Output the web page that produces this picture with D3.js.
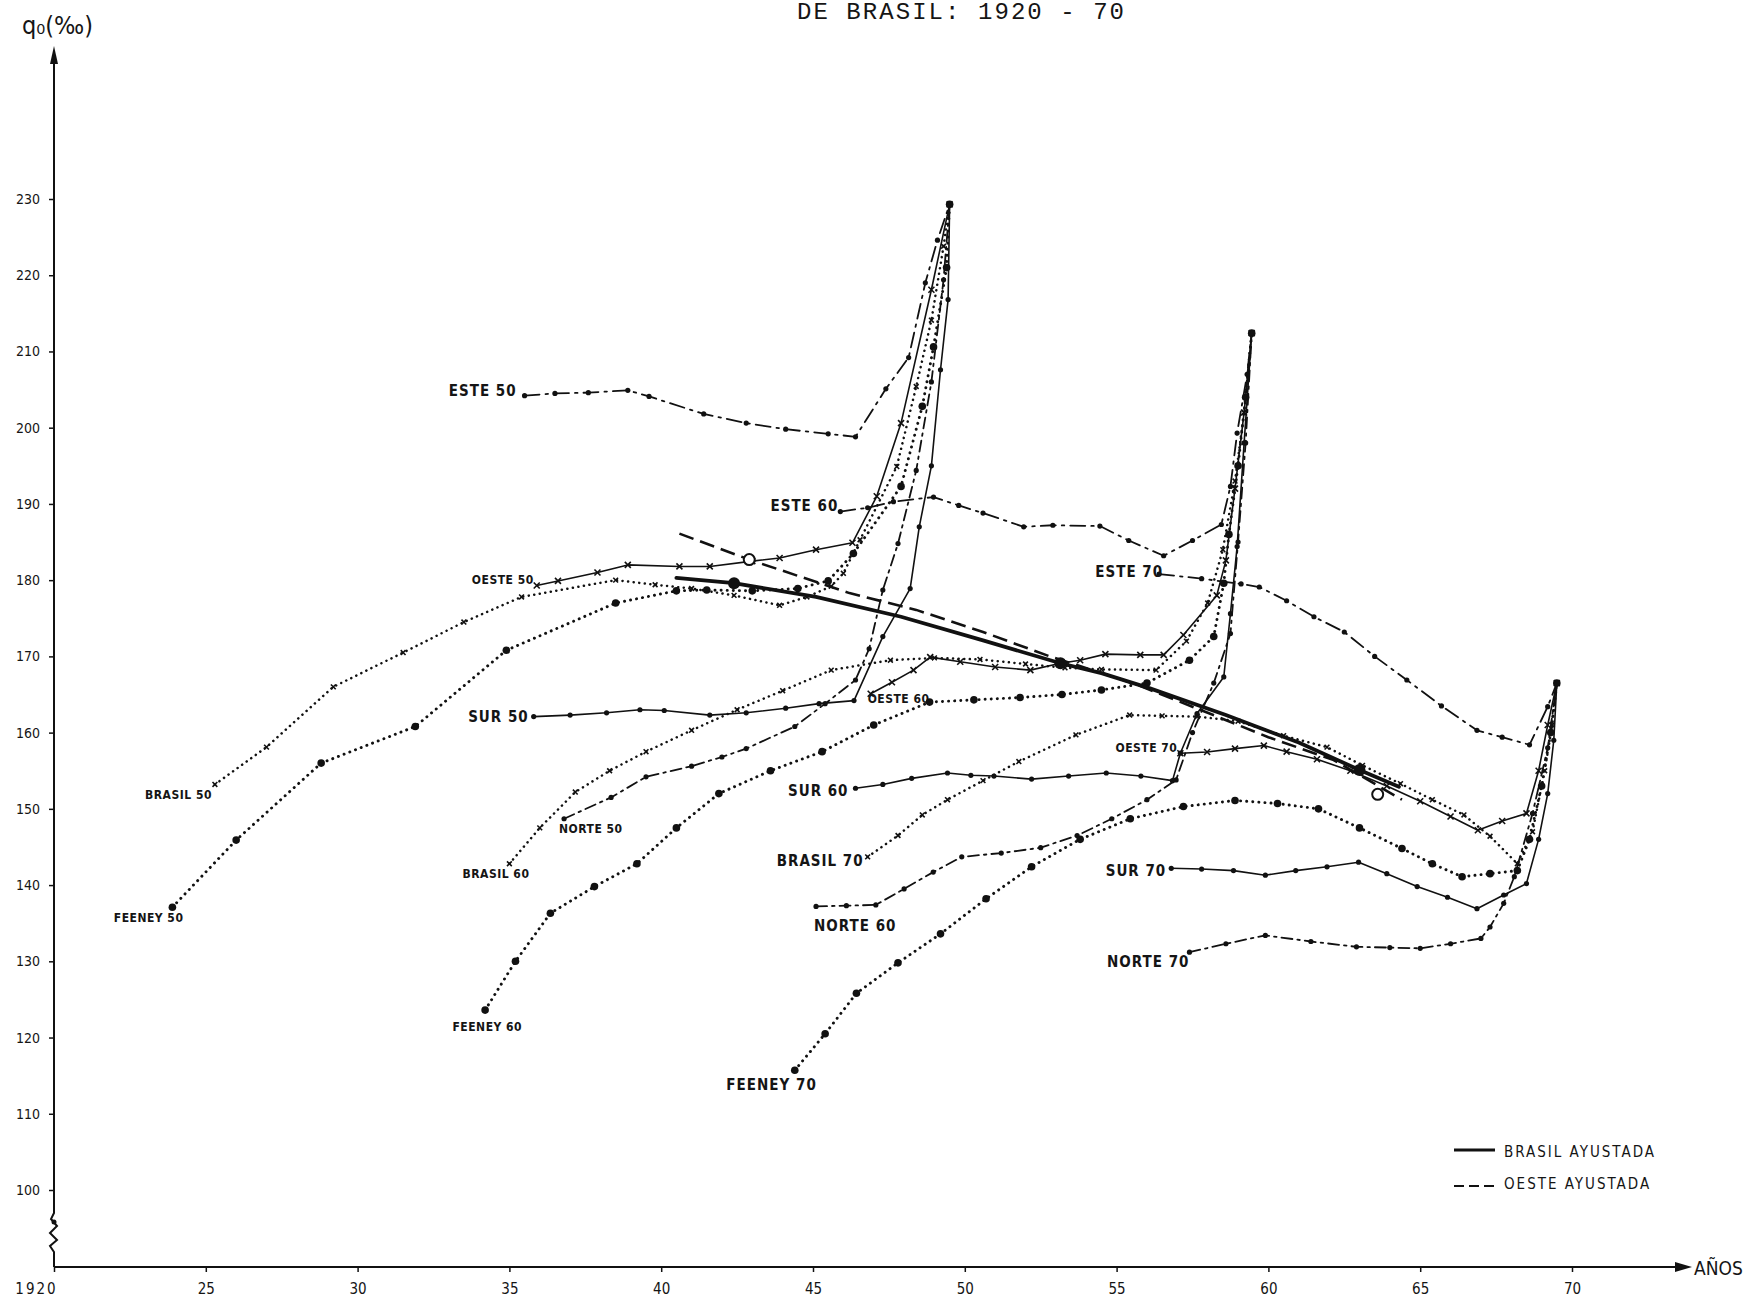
<!DOCTYPE html>
<html>
<head>
<meta charset="utf-8">
<script src="https://cdn.jsdelivr.net/npm/d3@7"></script>
<style>
  html, body { margin: 0; padding: 0; background: #fff; }
  svg { display: block; }
  text { fill: #151515; }
</style>
</head>
<body>
<svg id="chart" width="1753" height="1303"></svg>
<script>

// axis ticks
var yearTicks = [1920, 1925, 1930, 1935, 1940, 1945, 1950, 1955, 1960, 1965, 1970];
var yearTickLabels = ["1920", "25", "30", "35", "40", "45", "50", "55", "60", "65", "70"];
var q0Ticks = [100, 110, 120, 130, 140, 150, 160, 170, 180, 190, 200, 210, 220, 230];
var q0TickLabels = ["100", "110", "120", "130", "140", "150", "160", "170", "180", "190", "200", "210", "220", "230"];

// q0 (per thousand) by reference year: [year, q0]
var este50 = [[1935.5,204.2],[1936.5,204.5],[1937.6,204.6],[1938.9,204.9],[1939.6,204.1],[1941.4,201.8],[1942.8,200.6],[1944.1,199.8],[1945.5,199.2],[1946.4,198.8],[1947.4,205.1],[1948.15,209.2],[1948.7,219],[1949.1,224.6],[1949.5,229.3]];
var oeste50 = [[1935.9,179.3],[1936.6,179.9],[1937.9,181.0],[1938.9,182.0],[1940.6,181.8],[1941.6,181.8],[1943.0,182.5],[1943.9,182.9],[1945.1,184.0],[1946.3,184.9],[1947.1,191],[1947.9,200.6],[1948.9,218.1],[1949.5,229.3]];
var brasil50 = [[1925.3,153.2],[1927.0,158.1],[1929.2,166.0],[1931.5,170.5],[1933.5,174.5],[1935.4,177.8],[1938.5,180.0],[1939.8,179.4],[1941.0,178.9],[1942.4,178.0],[1943.9,176.7],[1944.8,177.8],[1945.6,179.2],[1946.0,180.9],[1946.55,185.3],[1947.76,194.9],[1948.4,205.4],[1948.9,214.1],[1949.3,223.8],[1949.5,229.3]];
var feeney50 = [[1923.9,137.1],[1926.0,145.9],[1928.8,156.0],[1931.9,160.8],[1934.9,170.8],[1938.5,177.0],[1940.5,178.6],[1941.5,178.7],[1943.0,178.6],[1944.5,178.9],[1945.5,179.9],[1946.33,183.5],[1947.9,192.3],[1948.6,202.8],[1948.97,210.6],[1949.4,221],[1949.5,229.3]];
var sur50 = [[1935.8,162.1],[1937.0,162.3],[1938.2,162.6],[1939.3,163.0],[1940.1,162.9],[1941.6,162.3],[1942.8,162.6],[1944.1,163.2],[1945.2,163.8],[1946.35,164.2],[1947.3,172.6],[1948.2,178.9],[1948.5,187],[1948.9,195],[1949.2,207.6],[1949.45,216.8],[1949.5,229.3]];
var norte50 = [[1936.8,148.7],[1938.35,151.5],[1939.5,154.2],[1941.0,155.6],[1942.0,156.8],[1942.8,157.9],[1944.4,160.8],[1945.4,163.8],[1946.4,166.9],[1946.85,171],[1947.3,178.7],[1947.8,184.8],[1948.4,194.4],[1948.9,206],[1949.3,219.4],[1949.5,229.3]];

var este60 = [[1945.9,189.0],[1946.8,189.5],[1947.65,190.3],[1948.97,190.9],[1949.8,189.8],[1950.6,188.8],[1951.94,187.0],[1952.9,187.2],[1954.45,187.1],[1955.4,185.2],[1956.55,183.2],[1957.5,185.2],[1958.45,187.3],[1958.75,192.3],[1958.97,199.3],[1959.3,207],[1959.45,212.4]];
var oeste60 = [[1946.9,165.1],[1947.6,166.6],[1948.31,168.2],[1948.86,169.9],[1949.85,169.3],[1951.0,168.6],[1952.16,168.2],[1953.15,169.1],[1953.8,169.5],[1954.63,170.3],[1955.78,170.2],[1956.55,170.2],[1957.2,172.8],[1958.3,178.0],[1958.6,182.6],[1958.9,192],[1959.2,202],[1959.45,212.4]];
var brasil60 = [[1935.0,142.8],[1936.0,147.5],[1937.17,152.2],[1938.3,155.0],[1939.5,157.5],[1941.0,160.3],[1942.5,163.0],[1944.0,165.5],[1945.6,168.2],[1947.55,169.5],[1949.0,169.8],[1950.5,169.6],[1952.0,169.0],[1953.3,168.5],[1954.5,168.3],[1956.3,168.2],[1957.3,172],[1958.0,177],[1958.5,184],[1958.9,193],[1959.2,202],[1959.45,212.4]];
var feeney60 = [[1934.2,123.6],[1935.2,130],[1936.35,136.3],[1937.8,139.8],[1939.2,142.8],[1940.5,147.5],[1941.9,152.0],[1943.6,155.0],[1945.3,157.5],[1947.0,161.0],[1948.84,164.0],[1950.3,164.3],[1951.82,164.6],[1953.2,165.0],[1954.5,165.6],[1956.0,166.5],[1957.4,169.5],[1958.2,172.6],[1958.53,179.6],[1958.7,186],[1959.0,195],[1959.25,204],[1959.45,212.4]];
var sur60 = [[1946.4,152.7],[1947.3,153.2],[1948.25,154.0],[1949.43,154.7],[1950.2,154.4],[1950.96,154.3],[1952.2,153.9],[1953.42,154.3],[1954.66,154.7],[1955.8,154.3],[1956.84,153.7],[1957.1,157.3],[1957.65,162.5],[1958.53,167.3],[1958.75,175.6],[1958.97,184.4],[1959.2,198],[1959.45,212.4]];
var norte60 = [[1945.1,137.2],[1946.1,137.3],[1947.07,137.4],[1948.0,139.5],[1948.96,141.7],[1949.9,143.7],[1951.2,144.2],[1952.5,144.9],[1953.7,146.5],[1954.84,148.7],[1956.0,151.2],[1956.96,153.8],[1957.5,160],[1958.2,166.5],[1958.75,173],[1959.0,185],[1959.25,198],[1959.45,212.4]];

var este70 = [[1956.4,180.8],[1957.8,180.2],[1959.1,179.5],[1959.7,179.1],[1960.6,177.3],[1961.5,175.2],[1962.5,173.2],[1963.5,170.0],[1964.56,166.9],[1965.7,163.5],[1966.87,160.3],[1967.7,159.4],[1968.6,158.4],[1969.2,163.4],[1969.5,166.5]];
var oeste70 = [[1957.1,157.3],[1957.98,157.45],[1958.9,157.9],[1959.85,158.3],[1960.6,157.5],[1961.6,156.5],[1962.7,155.0],[1963.9,153.0],[1965.0,151.0],[1966.0,149.0],[1966.9,147.2],[1967.7,148.4],[1968.5,149.4],[1968.9,155],[1969.2,161],[1969.5,166.5]];
var brasil70 = [[1946.8,143.7],[1947.8,146.5],[1948.6,149.2],[1949.43,151.2],[1950.6,153.7],[1951.78,156.2],[1953.66,159.7],[1955.43,162.3],[1956.5,162.2],[1957.66,162.1],[1959.0,161.5],[1960.5,159.6],[1961.93,158.1],[1963.1,155.7],[1964.35,153.3],[1965.4,151.2],[1966.44,149.2],[1967.3,146.4],[1968.2,142.8],[1968.7,147],[1969.1,155],[1969.35,161],[1969.5,166.5]];
var feeney70 = [[1944.4,115.7],[1945.4,120.5],[1946.43,125.8],[1947.8,129.8],[1949.2,133.6],[1950.7,138.2],[1952.2,142.4],[1953.8,146.0],[1955.45,148.7],[1957.2,150.3],[1958.9,151.1],[1960.3,150.7],[1961.65,150.0],[1963.0,147.5],[1964.4,144.8],[1965.4,142.8],[1966.38,141.1],[1967.3,141.5],[1968.2,141.9],[1968.6,146],[1969.0,153],[1969.3,160],[1969.5,166.5]];
var sur70 = [[1956.8,142.2],[1957.8,142.1],[1958.85,141.9],[1959.9,141.3],[1960.9,141.9],[1961.93,142.4],[1962.97,143.0],[1963.9,141.5],[1964.9,139.8],[1965.9,138.4],[1966.87,136.9],[1967.75,138.7],[1968.5,140.2],[1968.9,146],[1969.2,152],[1969.4,159],[1969.5,166.5]];
var norte70 = [[1957.4,131.2],[1958.6,132.3],[1959.9,133.4],[1961.4,132.6],[1962.9,131.9],[1964.0,131.8],[1965.0,131.7],[1966.0,132.3],[1967.0,133.0],[1967.3,134.5],[1967.75,137.6],[1968.1,141.1],[1968.7,149.4],[1969.2,158],[1969.5,166.5]];

// fitted lines
var brasilAjustada = [[1940.5,180.3],[1942.4,179.6],[1945.1,177.8],[1947.9,175.2],[1950.6,172.1],[1953.15,169.1],[1954.5,167.8],[1956.1,165.8],[1958.6,162.3],[1961.0,158.7],[1963.0,155.1],[1964.3,152.9]];
var oesteAjustada = [[1940.6,186.1],[1942.9,182.7],[1946.2,178.3],[1948.4,176.1],[1950.6,173.2],[1952.8,170.0],[1955.6,166.4],[1958.0,162.6],[1960.0,159.4],[1962.15,156.4],[1964.4,151.2]];
var brasilAjustadaDots = [[1942.4,179.6],[1953.15,169.1],[1963.0,155.1]];
var ajustadaCircles = [[1942.9,182.7],[1963.6,151.9]];

var series = [
    {name: "ESTE 50", data: este50, kind: "este"},
    {name: "OESTE 50", data: oeste50, kind: "oeste"},
    {name: "BRASIL 50", data: brasil50, kind: "brasil"},
    {name: "FEENEY 50", data: feeney50, kind: "feeney"},
    {name: "SUR 50", data: sur50, kind: "sur"},
    {name: "NORTE 50", data: norte50, kind: "norte"},
    {name: "ESTE 60", data: este60, kind: "este"},
    {name: "OESTE 60", data: oeste60, kind: "oeste"},
    {name: "BRASIL 60", data: brasil60, kind: "brasil"},
    {name: "FEENEY 60", data: feeney60, kind: "feeney"},
    {name: "SUR 60", data: sur60, kind: "sur"},
    {name: "NORTE 60", data: norte60, kind: "norte"},
    {name: "ESTE 70", data: este70, kind: "este"},
    {name: "OESTE 70", data: oeste70, kind: "oeste"},
    {name: "BRASIL 70", data: brasil70, kind: "brasil"},
    {name: "FEENEY 70", data: feeney70, kind: "feeney"},
    {name: "SUR 70", data: sur70, kind: "sur"},
    {name: "NORTE 70", data: norte70, kind: "norte"}
];

// line look per region
var kinds = {
    este:   {dash: "15,6,2.5,6", width: 1.8, marker: "dot", r: 2.6},
    norte:  {dash: "11,5,2.5,5", width: 1.8, marker: "dot", r: 2.6},
    sur:    {dash: null, width: 1.6, marker: "dot", r: 2.6},
    oeste:  {dash: null, width: 1.6, marker: "x", r: 3},
    brasil: {dash: "0.1,5.5", width: 2.5, marker: "x", r: 2.4},
    feeney: {dash: "0.1,6", width: 2.9, marker: "dot", r: 3.8}
};

// where each label sits next to the first point of its curve
var labelPos = {
    "ESTE 50":   {anchor: "end",   dx: -8, dy: -4,  small: false},
    "OESTE 50":  {anchor: "end",   dx: -3, dy: -5,  small: true},
    "SUR 50":    {anchor: "end",   dx: -5, dy: 1,   small: false},
    "NORTE 50":  {anchor: "start", dx: -5, dy: 11,  small: true},
    "BRASIL 50": {anchor: "end",   dx: -3, dy: 11,  small: true},
    "FEENEY 50": {anchor: "end",   dx: 11, dy: 11,  small: true},
    "ESTE 60":   {anchor: "end",   dx: -2, dy: -5,  small: false},
    "OESTE 60":  {anchor: "start", dx: -3, dy: 6,   small: true},
    "SUR 60":    {anchor: "end",   dx: -7, dy: 3,   small: false},
    "NORTE 60":  {anchor: "start", dx: -2, dy: 20,  small: false},
    "BRASIL 60": {anchor: "end",   dx: 20, dy: 11,  small: true},
    "FEENEY 60": {anchor: "end",   dx: 37, dy: 17,  small: true},
    "ESTE 70":   {anchor: "end",   dx: 4,  dy: -2,  small: false},
    "OESTE 70":  {anchor: "end",   dx: -3, dy: -5,  small: true},
    "SUR 70":    {anchor: "end",   dx: -5, dy: 3,   small: false},
    "NORTE 70":  {anchor: "end",   dx: 0,  dy: 10,  small: false},
    "BRASIL 70": {anchor: "end",   dx: -4, dy: 5,   small: false},
    "FEENEY 70": {anchor: "end",   dx: 22, dy: 15,  small: false}
};

var svg = d3.select("#chart");
var hand = "'Liberation Sans Narrow', 'DejaVu Sans Condensed', 'Arial Narrow', sans-serif";

var x = d3.scaleLinear().domain([1920, 1970]).range([54, 1572]);
var y = d3.scaleLinear().domain([100, 230]).range([1190, 199]);
var axisY = 1267;
var x0 = x(1920);

// title (the top edge of the scan clips it; kept just inside the page here)
svg.append("text")
    .attr("x", 797).attr("y", 19)
    .attr("textLength", 327)
    .style("font-family", "'Liberation Mono', 'DejaVu Sans Mono', monospace")
    .style("font-size", "24px")
    .text("DE BRASIL: 1920 - 70");

// y axis
var yAxis = svg.append("g")
    .attr("transform", "translate(" + x0 + ",0)")
    .call(d3.axisLeft(y).tickValues(q0Ticks).tickSize(5).tickPadding(9)
        .tickFormat(function(d, i) { return q0TickLabels[i]; }));
yAxis.select(".domain").remove();
yAxis.selectAll("line").attr("stroke", "#111").attr("stroke-width", 1.5);
yAxis.selectAll("text").style("font-family", hand).style("font-size", "14px").attr("fill", "#151515");

// axis line with the break zigzag near the bottom
var zig = [[x0, axisY], [x0, 1252], [x0 - 4, 1246], [x0 + 3, 1240], [x0 - 4, 1233],
           [x0 + 3, 1226], [x0 - 3, 1219], [x0, 1213], [x0, 56]];
svg.append("path")
    .attr("d", d3.line()(zig))
    .attr("fill", "none").attr("stroke", "#111").attr("stroke-width", 2);
svg.append("path")
    .attr("d", "M" + x0 + ",46 L" + (x0 - 4) + ",64 L" + (x0 + 4) + ",64 Z")
    .attr("fill", "#111");
svg.append("circle").attr("cx", x0).attr("cy", 1222).attr("r", 2.5).attr("fill", "#111");

svg.append("text")
    .attr("x", 22).attr("y", 34)
    .style("font-family", hand).style("font-size", "25px")
    .text("q\u2080(\u2030)");

// x axis
var xAxis = svg.append("g")
    .attr("transform", "translate(0," + axisY + ")")
    .call(d3.axisBottom(x).tickValues(yearTicks).tickSize(5).tickPadding(11)
        .tickFormat(function(d, i) { return yearTickLabels[i]; }));
xAxis.select(".domain").remove();
xAxis.selectAll("line").attr("stroke", "#111").attr("stroke-width", 1.5);
xAxis.selectAll("text").style("font-family", hand).style("font-size", "15px").attr("fill", "#151515");
xAxis.selectAll(".tick").filter(function(d) { return d === 1920; })
    .select("text").attr("dx", -18).attr("letter-spacing", 2);

svg.append("line")
    .attr("x1", x0).attr("x2", 1680).attr("y1", axisY).attr("y2", axisY)
    .attr("stroke", "#111").attr("stroke-width", 2.2);
svg.append("path")
    .attr("d", "M1692," + axisY + " L1675," + (axisY - 5) + " L1675," + (axisY + 5) + " Z")
    .attr("fill", "#111");
svg.append("text")
    .attr("x", 1694).attr("y", axisY + 8)
    .style("font-family", hand).style("font-size", "19px")
    .text("AÑOS");

// curves
var line = d3.line()
    .x(function(d) { return x(d[0]); })
    .y(function(d) { return y(d[1]); });

var curves = svg.append("g");
series.forEach(function(s) {
    var k = kinds[s.kind];
    var g = curves.append("g").attr("class", "serie");
    g.append("path")
        .attr("d", line(s.data))
        .attr("fill", "none")
        .attr("stroke", "#111")
        .attr("stroke-width", k.width)
        .attr("stroke-linecap", "round")
        .attr("stroke-linejoin", "round")
        .attr("stroke-dasharray", k.dash);

    if (k.marker === "dot") {
        g.selectAll("circle").data(s.data).enter().append("circle")
            .attr("cx", function(d) { return x(d[0]); })
            .attr("cy", function(d) { return y(d[1]); })
            .attr("r", k.r)
            .attr("fill", "#111");
    } else {
        g.selectAll("path.mk").data(s.data).enter().append("path")
            .attr("class", "mk")
            .attr("d", function(d) {
                var cx = x(d[0]), cy = y(d[1]), r = k.r;
                return "M" + (cx - r) + "," + (cy - r) + "L" + (cx + r) + "," + (cy + r) +
                       "M" + (cx - r) + "," + (cy + r) + "L" + (cx + r) + "," + (cy - r);
            })
            .attr("stroke", "#111").attr("stroke-width", 1.6);
    }

    var p = labelPos[s.name];
    var first = s.data[0];
    g.append("text")
        .attr("x", x(first[0]) + p.dx)
        .attr("y", y(first[1]) + p.dy)
        .attr("dominant-baseline", "middle")
        .attr("text-anchor", p.anchor)
        .style("font-family", hand)
        .style("font-weight", "bold")
        .style("font-size", p.small ? "12px" : "15px")
        .style("letter-spacing", p.small ? "0.5px" : "1px")
        .text(s.name);
});

// fitted curves on top
svg.append("path")
    .attr("d", line(oesteAjustada))
    .attr("fill", "none").attr("stroke", "#111").attr("stroke-width", 2.6)
    .attr("stroke-dasharray", "15,7");
svg.append("path")
    .attr("d", line(brasilAjustada))
    .attr("fill", "none").attr("stroke", "#111").attr("stroke-width", 3.8)
    .attr("stroke-linecap", "round");
svg.selectAll("circle.aj").data(brasilAjustadaDots).enter().append("circle")
    .attr("class", "aj")
    .attr("cx", function(d) { return x(d[0]); })
    .attr("cy", function(d) { return y(d[1]); })
    .attr("r", 6).attr("fill", "#111");
svg.selectAll("circle.open").data(ajustadaCircles).enter().append("circle")
    .attr("class", "open")
    .attr("cx", function(d) { return x(d[0]); })
    .attr("cy", function(d) { return y(d[1]); })
    .attr("r", 5.5).attr("fill", "#fff").attr("stroke", "#111").attr("stroke-width", 2);

// legend
var legend = svg.append("g").attr("transform", "translate(1454,1150)");
legend.append("line").attr("x1", 0).attr("x2", 41).attr("y1", 0).attr("y2", 0)
    .attr("stroke", "#111").attr("stroke-width", 3.2);
legend.append("line").attr("x1", 0).attr("x2", 41).attr("y1", 36).attr("y2", 36)
    .attr("stroke", "#111").attr("stroke-width", 2).attr("stroke-dasharray", "10,5");
legend.append("text").attr("x", 50).attr("y", 2).attr("dominant-baseline", "middle")
    .style("font-family", hand).style("font-size", "15px").style("letter-spacing", "2px")
    .text("BRASIL  AYUSTADA");
legend.append("text").attr("x", 50).attr("y", 34).attr("dominant-baseline", "middle")
    .style("font-family", hand).style("font-size", "15px").style("letter-spacing", "2px")
    .text("OESTE  AYUSTADA");

</script>
</body>
</html>
